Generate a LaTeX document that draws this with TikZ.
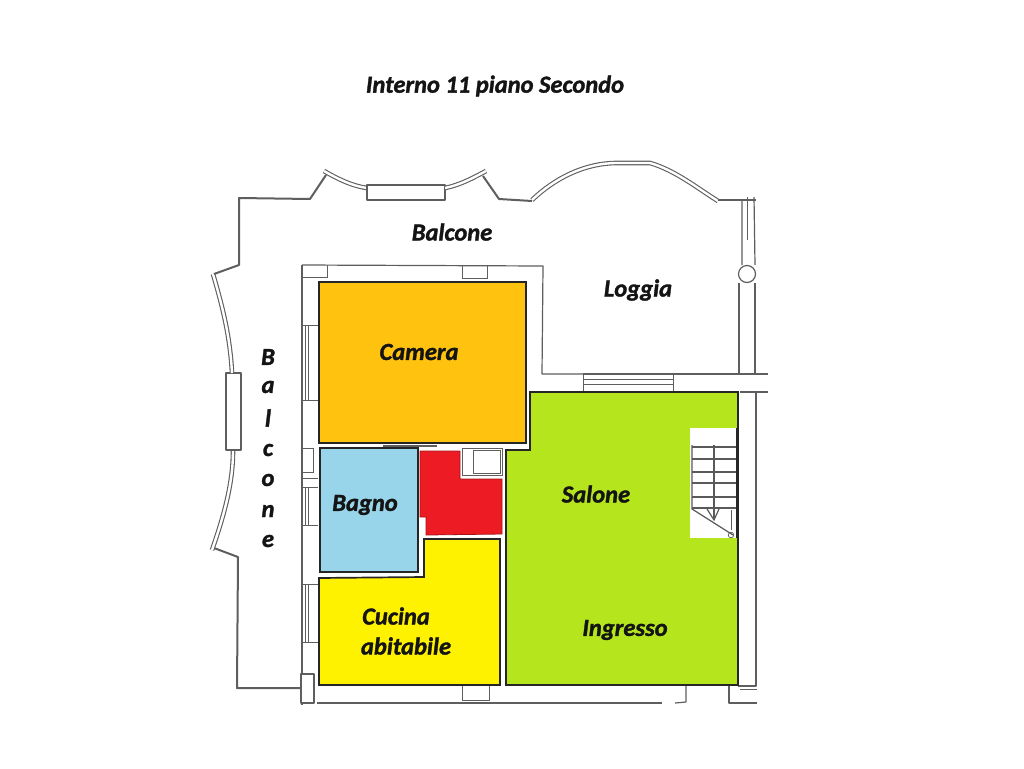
\documentclass[tikz,border=0pt]{standalone}
\usepackage{fontspec}
\setmainfont[BoldItalicFeatures={FakeBold=1.4}]{Carlito}
\definecolor{wallc}{HTML}{5E5E5E}
\definecolor{labelc}{HTML}{141414}
\definecolor{camerac}{HTML}{FFC20E}
\definecolor{bagnoc}{HTML}{99D5EA}
\definecolor{rossoc}{HTML}{ED1C24}
\definecolor{cucinac}{HTML}{FFF200}
\definecolor{salonec}{HTML}{B5E61D}
\tikzset{
  wall/.style={draw=wallc,line width=1.2pt,line join=round},
  wallb/.style={draw=wallc,line width=2pt,line join=round},
  thinw/.style={draw=wallc,line width=.8pt},
  dbl/.style={draw=wallc,line width=1.1pt,double=white,double distance=2.4pt},
  room/.style={draw=black!85,line width=1.7pt,line join=miter},
  roomlabel/.style={font=\bfseries\itshape\fontsize{24.5}{26}\selectfont,text=labelc,inner sep=0pt,anchor=center},
  stair/.style={draw=black!65,line width=1.2pt}
}
\begin{document}
\begin{tikzpicture}[x=1pt,y=-1pt]
\useasboundingbox (0,0) rectangle (1024,768);
\fill[white] (0,0) rectangle (1024,768);
% outer balcony outline
\draw[wallb] (300,688) -- (237,688) -- (238,557) -- (214,548);
\draw[dbl] (212,550) .. controls (226,510) and (233,480) .. (233,451);
\draw[wall,fill=white] (226,373) rectangle (241,450);
\draw[dbl] (232,373) .. controls (230,335) and (222,305) .. (213,274);
\draw[wallb] (214,274) -- (239,265) -- (239,198) -- (310,199) -- (326,175);
\draw[dbl] (324,171) .. controls (338,179) and (352,186) .. (367,188);
\draw[wall,fill=white] (367,185) rectangle (445,200);
\draw[dbl] (445,188) .. controls (460,185) and (473,178) .. (486,171);
\draw[wallb] (483,176) -- (499,199) -- (532,201);
\draw[dbl] (532,200) .. controls (555,178) and (585,163) .. (617,163) -- (650,163) .. controls (675,170) and (700,190) .. (718,201);
\draw[wallb] (718,200) -- (756,200);
% loggia right column
\draw[wall] (742,200) -- (742,265) (754,197) -- (755,265);
\draw[thinw] (747,197) -- (747,240);
\draw[wall,fill=white] (747,274) circle (8.5);
\draw[wall] (739,283) -- (739,374) (755,283) -- (755,374);
% inner walls
\draw[wall] (302,265) -- (543,266) -- (542,374) -- (583,374);
\draw[wall] (302,265) -- (302,705);
\draw[wall] (673,374) -- (768,374);
\draw[wall] (740,392) -- (768,392);
\draw[wall] (583,374) -- (673,374);
\draw[thinw] (583,374) -- (583,391) (673,374) -- (673,391);
\draw[thinw] (583,379) -- (673,379) (583,384) -- (673,384);
\draw[thinw] (302,277) -- (327,277) -- (327,265);
\draw[thinw] (462,266) -- (462,278) -- (487,278) -- (487,266);
% left windows
\draw[thinw] (302,325) -- (318,325) (302,400) -- (318,400) (305,325) -- (305,400) (308,325) -- (308,400);
\draw[thinw] (302,487) -- (318,487) (302,525) -- (318,525) (305,487) -- (305,525) (308,487) -- (308,525);
\draw[thinw] (302,584) -- (318,584) (302,642) -- (318,642) (305,584) -- (305,642) (308,584) -- (308,642);
\draw[thinw] (302,448) rectangle (313,472);
\draw[thinw] (302,478) -- (318,478);
% bottom walls
\draw[wall,fill=white] (301,674) rectangle (314,703);
\draw[wall] (317,703) -- (662,703);
\draw[wall] (686,686) -- (686,702) -- (675,703);
\draw[thinw] (462,686) -- (462,700) -- (489,700) -- (489,686);
\draw[wall] (729,686) -- (729,703) -- (757,703);
\draw[thinw] (740,689) -- (757,689);
% right corridor
\draw[wall] (756,392) -- (756,686) -- (738,686);
% rooms
\draw[room,fill=camerac] (319,282) rectangle (526,443);
\draw[wallb] (383,446) -- (437,446);
\draw[room,fill=bagnoc] (320,448) rectangle (418,572);
\path[fill=rossoc,draw=rossoc!70!black,line width=.8pt] (420,451) -- (460,451) -- (460,479) -- (502,479) -- (502,534) -- (426,535) -- (426,517) -- (420,517) -- cycle;
\draw[thinw] (462,448) rectangle (502,475);
\draw[thinw] (473,450) rectangle (500,473);
\draw[room,fill=cucinac] (319,578) -- (424,577) -- (424,539) -- (500,539) -- (500,685) -- (319,685) -- cycle;
\draw[room,fill=salonec] (530,392) -- (738,392) -- (738,685) -- (506,685) -- (506,450) -- (530,450) -- cycle;
% stairs
\fill[white] (690,428) rectangle (736,538);
\draw[room,line width=1.2pt] (737,428) -- (737,538);
\draw[stair] (692,445) -- (692,509) -- (733,535);
\draw[stair] (692,447) -- (736,447) (692,459) -- (736,459) (692,472) -- (736,472) (692,483) -- (736,483) (692,497) -- (736,497) (692,508) -- (736,508);
\draw[stair] (714,445) -- (714,520);
\draw[stair] (707,509) -- (714,520) -- (719,509);
\draw[stair,line width=.7pt] (731,535) circle (2.8);
\draw[stair,line width=.5pt] (731,510) -- (731,530);
% labels
\node[roomlabel] (titolo) at (495,86) {Interno 11 piano Secondo};
\node[roomlabel] (balconeA) at (452,232) {Balcone};
\node[roomlabel] (loggia) at (638,290) {Loggia};
\node[roomlabel] (camera) at (419,352) {Camera};
\node[roomlabel] (bagno) at (365,505) {Bagno};
\node[roomlabel] (salone) at (596,494) {Salone};
\node[roomlabel] (ingresso) at (625,630) {Ingresso};
\node[roomlabel] (cucina) at (396,616) {Cucina};
\node[roomlabel] (abitabile) at (406,646) {abitabile};
\node[roomlabel] (lB) at (268,357) {B};
\node[roomlabel] (la) at (268,387) {a};
\node[roomlabel] (ll) at (268,418) {l};
\node[roomlabel] (lc) at (268,450) {c};
\node[roomlabel] (lo) at (268,480) {o};
\node[roomlabel] (ln) at (268,511) {n};
\node[roomlabel] (le) at (268,541) {e};
\end{tikzpicture}
\end{document}
